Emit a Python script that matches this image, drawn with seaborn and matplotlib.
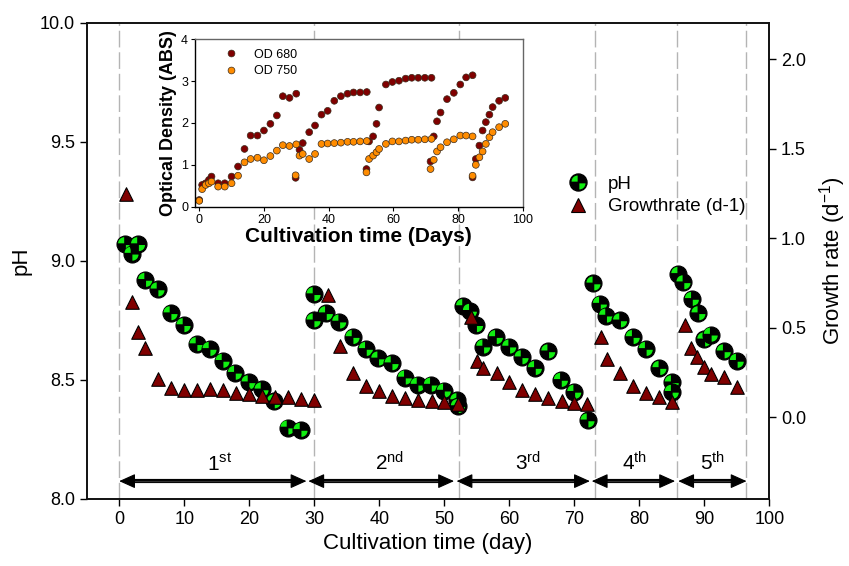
import numpy as np
import pandas as pd
import matplotlib
matplotlib.use('Agg')
import matplotlib.pyplot as plt
import seaborn as sns
from matplotlib.path import Path
from matplotlib.lines import Line2D
from matplotlib.transforms import Affine2D

# ---------------- data ----------------
ph_day = [0.9, 1.9, 2.9, 4.0, 5.9, 7.9, 9.9, 11.9, 13.9, 15.9, 17.8, 19.9, 21.9, 23.8, 25.9, 27.9,
          29.9, 29.9, 31.8, 33.85, 35.9, 37.95, 39.85, 41.9, 43.95, 45.9, 47.95, 49.95, 52.0, 52.1,
          52.9, 53.95, 54.9, 56.0, 57.95, 60.0, 61.9, 63.95, 66.0, 67.95, 70.0, 72.05,
          72.95, 73.95, 74.9, 77.05, 79.0, 81.0, 83.1, 85.0, 85.0,
          86.0, 86.8, 88.1, 89.1, 90.0, 91.0, 93.0, 95.0]
ph_val = [9.07, 9.03, 9.07, 8.92, 8.88, 8.78, 8.73, 8.65, 8.63, 8.58, 8.53, 8.49, 8.46, 8.41, 8.30, 8.29,
          8.86, 8.75, 8.78, 8.745, 8.68, 8.63, 8.59, 8.57, 8.51, 8.48, 8.48, 8.455, 8.415, 8.39,
          8.81, 8.79, 8.73, 8.64, 8.68, 8.64, 8.595, 8.55, 8.62, 8.50, 8.45, 8.33,
          8.905, 8.82, 8.77, 8.75, 8.68, 8.63, 8.55, 8.49, 8.45,
          8.945, 8.91, 8.84, 8.78, 8.67, 8.69, 8.62, 8.58]

gr_day = [1.0, 1.9, 2.9, 3.95, 6.0, 7.9, 9.95, 11.9, 13.95, 16.0, 17.9, 20.0, 21.9, 24.0, 26.0, 27.95, 30.0,
          32.05, 33.95, 35.9, 37.95, 39.9, 41.95, 43.95, 46.0, 48.05, 49.95, 52.05,
          54.05, 55.0, 56.0, 58.05, 60.0, 61.9, 63.95, 66.0, 68.05, 70.0, 71.9,
          74.05, 75.0, 77.05, 79.0, 81.0, 83.1, 85.0,
          87.0, 88.0, 88.9, 90.0, 91.1, 93.0, 95.0]
gr_val = [1.246, 0.644, 0.477, 0.384, 0.212, 0.160, 0.151, 0.151, 0.156, 0.151, 0.136, 0.127, 0.117, 0.110, 0.110, 0.101, 0.095,
          0.682, 0.398, 0.244, 0.175, 0.147, 0.117, 0.104, 0.095, 0.091, 0.082, 0.073,
          0.56, 0.315, 0.272, 0.248, 0.197, 0.151, 0.128, 0.104, 0.089, 0.080, 0.071,
          0.449, 0.322, 0.244, 0.175, 0.132, 0.113, 0.085,
          0.514, 0.384, 0.337, 0.278, 0.240, 0.222, 0.169]

od_day = [0, 0.9, 2, 3, 3.8, 5.85, 7.9, 10, 12, 14, 15.9, 18, 20, 22, 24, 25.85, 27.9, 30, 29.8,
          31, 32, 34, 35.8, 37.8, 39.7, 41.75, 43.8, 45.85, 47.7, 49.75, 51.8, 51.7,
          52.5, 53.75, 54.8, 55.6, 57.7, 59.7, 61.75, 63.8, 65.7, 67.7, 69.75, 71.8, 71.5,
          72.5, 73.5, 74.6, 76.6, 78.7, 80.7, 82.5, 84.5, 84.5,
          85.5, 86.6, 87.6, 88.6, 89.7, 90.7, 92.7, 94.6]
od680 = [0.16, 0.52, 0.56, 0.64, 0.72, 0.56, 0.56, 0.72, 0.96, 1.38, 1.70, 1.70, 1.82, 1.98, 2.18, 2.64, 2.60, 2.70, 0.69,
         1.36, 1.52, 1.78, 1.94, 2.20, 2.29, 2.53, 2.64, 2.70, 2.73, 2.73, 2.74, 0.90,
         1.56, 1.68, 1.98, 2.37, 2.92, 2.98, 3.01, 3.06, 3.08, 3.08, 3.08, 3.08, 1.08,
         1.68, 2.04, 2.25, 2.57, 2.72, 2.92, 3.09, 3.14, 0.70,
         1.14, 1.46, 1.82, 2.02, 2.20, 2.38, 2.53, 2.60]
od750 = [0.14, 0.42, 0.52, 0.56, 0.60, 0.48, 0.48, 0.56, 0.74, 1.06, 1.14, 1.17, 1.11, 1.21, 1.34, 1.47, 1.45, 1.49, 0.75,
         1.22, 1.26, 1.14, 1.26, 1.50, 1.51, 1.52, 1.53, 1.55, 1.55, 1.56, 1.57, 0.82,
         1.14, 1.22, 1.30, 1.38, 1.50, 1.56, 1.56, 1.58, 1.60, 1.60, 1.61, 1.62, 0.90,
         1.12, 1.32, 1.42, 1.54, 1.61, 1.70, 1.70, 1.68, 0.74,
         1.00, 1.18, 1.32, 1.50, 1.66, 1.78, 1.90, 1.98]

cycle_bounds = [0, 30, 52.3, 73.2, 85.8, 96.4]
arrow_start = [0, 29.1, 51.9, 72.7, 86.0]
arrow_end = [28.8, 51.5, 72.4, 85.5, 96.5]
cycle_labels = ['1', '2', '3', '4', '5']
cycle_sups = ['st', 'nd', 'rd', 'th', 'th']
cycle_label_x = [15.5, 41.6, 62.9, 79.3, 91.3]

ph_df = pd.DataFrame({'day': ph_day, 'pH': ph_val})
gr_df = pd.DataFrame({'day': gr_day, 'gr': gr_val})
od_df = pd.concat([
    pd.DataFrame({'day': od_day, 'OD': od680, 'series': 'OD 680'}),
    pd.DataFrame({'day': od_day, 'OD': od750, 'series': 'OD 750'}),
], ignore_index=True)

# ---------------- style ----------------
sns.set_theme(style='ticks')
plt.rcParams['font.family'] = ['Liberation Sans', 'DejaVu Sans']
plt.rcParams['mathtext.fontset'] = 'custom'
plt.rcParams['mathtext.rm'] = 'Liberation Sans'
plt.rcParams['mathtext.it'] = 'Liberation Sans:italic'
plt.rcParams['mathtext.bf'] = 'Liberation Sans:bold'
for k in ('text.color', 'axes.labelcolor', 'xtick.color', 'ytick.color', 'axes.edgecolor'):
    plt.rcParams[k] = 'black'

GREEN = '#11ee11'
DARKRED = '#800000'
ORANGE = '#ff8c00'

fig = plt.figure(figsize=(8.49, 5.66), dpi=100)
ax = fig.add_axes([0.1021, 0.1184, 0.8040, 0.8415])
ax2 = ax.twinx()

# quadrant marker for pH
r_q, g_q = 0.72, 0.10
w1 = Path.wedge(90, 180).transformed(Affine2D().scale(r_q).translate(-g_q, g_q))
w2 = Path.wedge(270, 360).transformed(Affine2D().scale(r_q).translate(g_q, -g_q))
quad = Path.make_compound_path(w1, w2)
S_CIRC = 150
S_QUAD = S_CIRC * (r_q + g_q) ** 2

# dashed cycle boundaries
for b in cycle_bounds:
    ax.axvline(b, color='#b4b4b4', lw=1.0, dashes=(12, 3.5), zorder=1)

# pH points, one at a time so overlapping markers stack correctly
for i in range(len(ph_df)):
    row = ph_df.iloc[[i]]
    sns.scatterplot(data=row, x='day', y='pH', ax=ax, marker='o', color='black',
                    edgecolor='black', linewidth=0.8, s=S_CIRC, zorder=3, legend=False)
    sns.scatterplot(data=row, x='day', y='pH', ax=ax, marker=quad, color=GREEN,
                    edgecolor='none', linewidth=0, s=S_QUAD, zorder=3, legend=False)

# growth rate
sns.scatterplot(data=gr_df, x='day', y='gr', ax=ax2, marker='^', color=DARKRED,
                edgecolor='black', linewidth=0.8, s=95, zorder=3, legend=False)

# arrows and cycle labels
arrow_y = 8.075
for xs, xe in zip(arrow_start, arrow_end):
    ax.plot([xs + 1.0, xe - 1.0], [arrow_y, arrow_y], color='black', lw=3.0,
            solid_capstyle='butt', zorder=4)
    ax.plot([xs + 1.8, xe - 1.8], [arrow_y, arrow_y], color='#9a9a9a', lw=0.8, zorder=5)
    ax.annotate('', xy=(xe, arrow_y), xytext=(xs, arrow_y),
                arrowprops=dict(arrowstyle='<|-|>,head_length=1.0,head_width=0.45',
                                color='black', lw=0.8, shrinkA=0, shrinkB=0,
                                mutation_scale=10), zorder=6)
for lab, sup, lx in zip(cycle_labels, cycle_sups, cycle_label_x):
    ax.text(lx, 8.118, lab + r'$^{\mathregular{' + sup + '}}$', fontsize=15,
            ha='center', va='baseline', zorder=5)

# axes formatting
ax.set_xlim(-5, 100)
ax.set_ylim(8.0, 10.0)
ax2.set_ylim(-0.458, 2.203)
ax.set_xticks(np.arange(0, 101, 10))
ax.set_yticks(np.arange(8.0, 10.01, 0.5))
ax.set_yticklabels([f'{v:.1f}' for v in np.arange(8.0, 10.01, 0.5)])
ax2.set_yticks(np.arange(0.0, 2.01, 0.5))
ax2.set_yticklabels([f'{v:.1f}' for v in np.arange(0.0, 2.01, 0.5)])
ax.set_xlabel('Cultivation time (day)', fontsize=16, labelpad=4)
ax.set_ylabel('pH', fontsize=16, labelpad=6)
ax2.set_ylabel(r'Growth rate (d$^{\mathregular{-1}}$)', fontsize=16, labelpad=8)
for a in (ax, ax2):
    a.tick_params(axis='both', labelsize=13, length=5, width=1.0, color='black', direction='out')
    for sp in a.spines.values():
        sp.set_color('#111111')
        sp.set_linewidth(1.2)
ax.tick_params(axis='y', right=False)
ax2.tick_params(axis='y', left=False)
ax.tick_params(axis='x', top=False)

# main legend
h_ph = (Line2D([], [], marker='o', ms=np.sqrt(S_CIRC), mfc='black', mec='black', ls=''),
        Line2D([], [], marker=quad, ms=np.sqrt(S_QUAD), mfc=GREEN, mec='none', ls=''))
h_gr = Line2D([], [], marker='^', ms=np.sqrt(95), mfc=DARKRED, mec='black', mew=0.8, ls='')
ax2.legend([h_ph, h_gr], ['pH', 'Growthrate (d-1)'], loc='upper left',
           bbox_to_anchor=(0.6676, 0.6899), bbox_transform=fig.transFigure,
           frameon=False, fontsize=13.5, handlelength=1.2, handletextpad=1.0,
           borderpad=0, borderaxespad=0, labelspacing=0.3)

# ---------------- inset ----------------
axi = fig.add_axes([0.2297, 0.6348, 0.386, 0.2958])
axi.set_zorder(10)
axi.set_facecolor('white')
sns.scatterplot(data=od_df, x='day', y='OD', hue='series',
                palette={'OD 680': DARKRED, 'OD 750': ORANGE},
                edgecolor='#3a2a1a', linewidth=0.5, s=24, ax=axi, legend=False)
axi.set_xlim(-1.3, 100)
axi.set_ylim(0, 4)
axi.set_xticks(np.arange(0, 101, 20))
axi.set_yticks(np.arange(0, 5, 1))
axi.tick_params(axis='both', labelsize=9, length=3, width=0.8, direction='out', pad=2)
axi.set_xlabel('Cultivation time (Days)', fontsize=15, fontweight='bold', labelpad=1)
axi.set_ylabel('Optical Density (ABS)', fontsize=13, fontweight='bold', labelpad=3)
for name, sp in axi.spines.items():
    sp.set_linewidth(1.0)
    sp.set_color('black' if name in ('left', 'bottom') else '#666666')
hi1 = Line2D([], [], marker='o', ms=np.sqrt(24), mfc=DARKRED, mec='#3a2a1a', mew=0.5, ls='')
hi2 = Line2D([], [], marker='o', ms=np.sqrt(24), mfc=ORANGE, mec='#3a2a1a', mew=0.5, ls='')
axi.legend([hi1, hi2], ['OD 680', 'OD 750'], loc='upper left', bbox_to_anchor=(0.091, 0.944),
           frameon=False, fontsize=9, handlelength=1.0, handletextpad=1.3,
           borderpad=0, borderaxespad=0, labelspacing=0.35)

fig.savefig('out.png', dpi=100)
